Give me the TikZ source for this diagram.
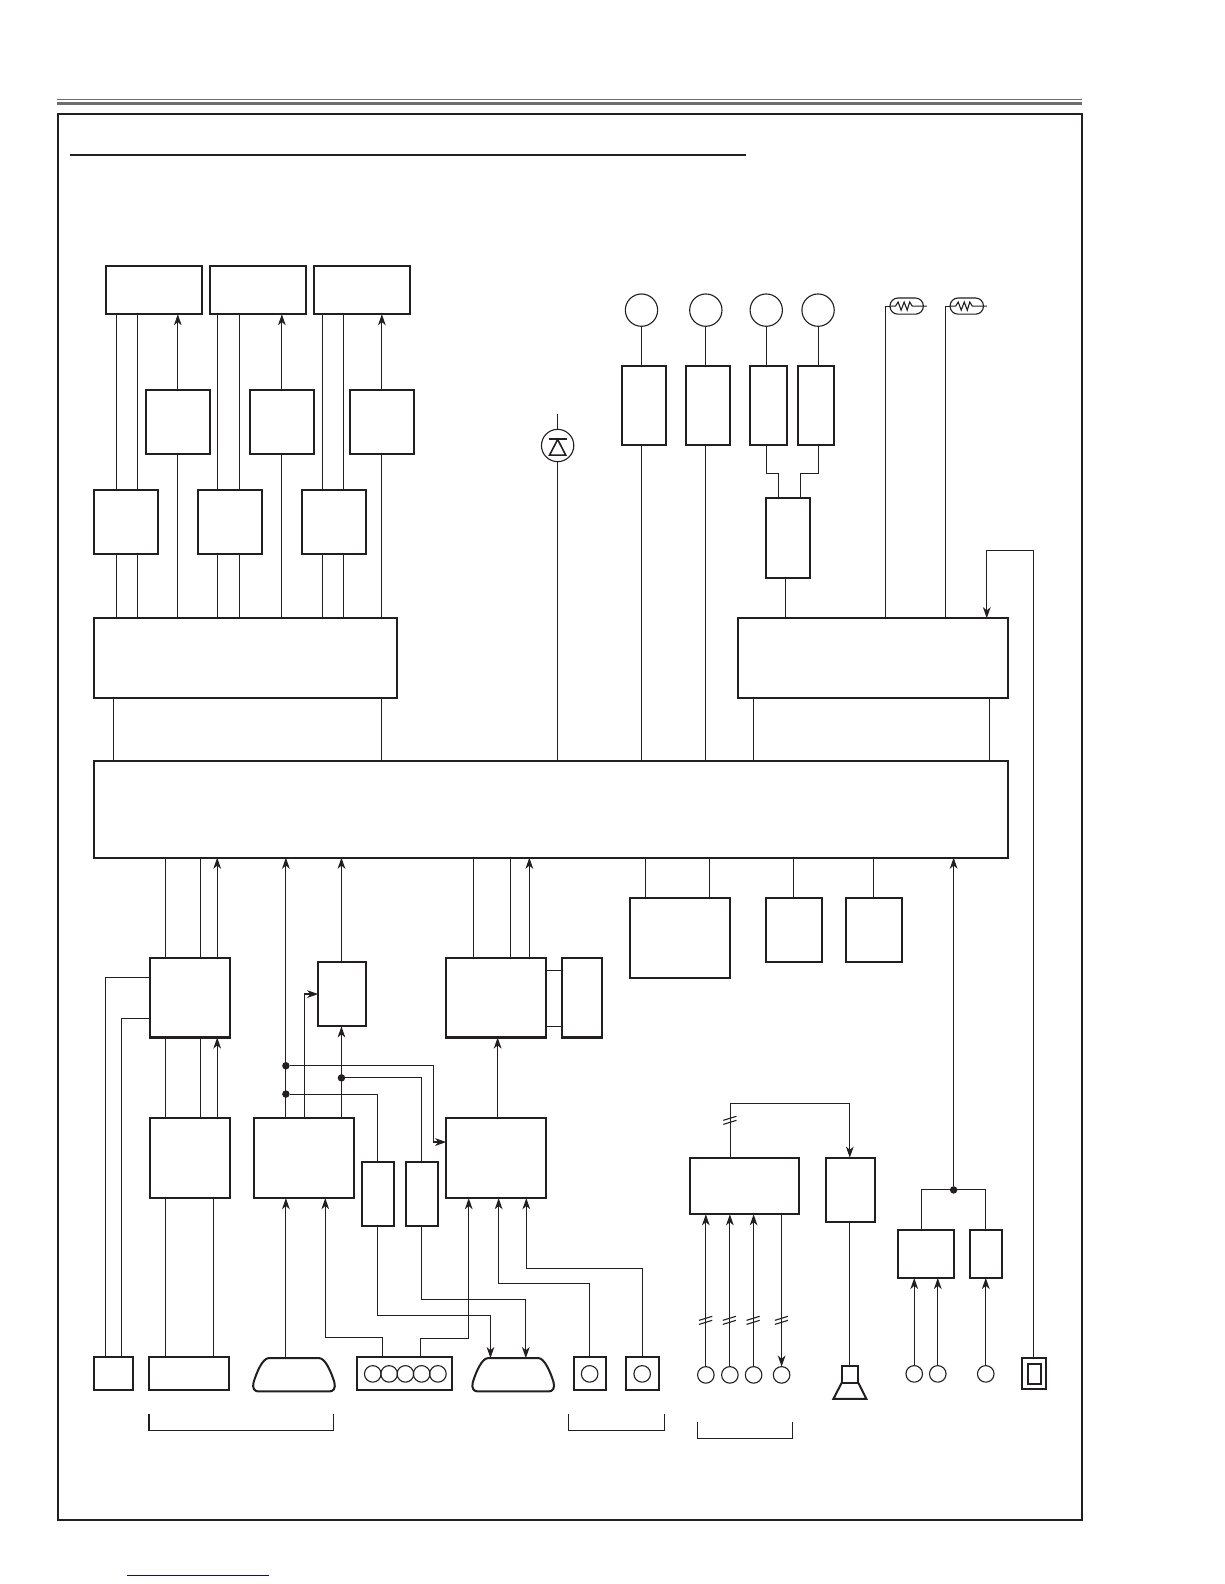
\documentclass[tikz,border=0pt]{standalone}
\usepackage{xcolor}
\usetikzlibrary{arrows.meta}
\definecolor{ink}{HTML}{231F20}
\definecolor{rulegray}{HTML}{6D6E70}
\definecolor{linkblue}{HTML}{0A0A96}
\begin{document}
\begin{tikzpicture}[x=0.5pt, y=-0.5pt, color=ink, line width=0.55pt,
    >={Stealth[length=5.5pt,width=3.8pt,inset=1.6pt]},
    main/.style 2 args = {draw, line width=1pt, inner sep=0pt, outer sep=0pt, anchor=north west, minimum width=#1*0.5pt, minimum height=#2*0.5pt},
    lamp/.style = {draw, circle, inner sep=0pt, outer sep=0pt, minimum size=16pt},
    port/.style = {draw, circle, inner sep=0pt, outer sep=0pt, minimum size=8.2pt},
    dot/.style = {fill, circle, inner sep=0pt, outer sep=0pt, minimum size=3.7pt},
    capsule/.style = {draw, rounded corners=3.9pt, inner sep=0pt, outer sep=0pt, minimum width=16.5pt, minimum height=8pt},
    plug/.pic = {\draw[line width=1pt] (-25,0)--(25,0) .. controls (31,0) and (37,14) .. (40,24) .. controls (41.5,30) and (39,33) .. (35,33)--(-35,33) .. controls (-39,33) and (-41.5,30) .. (-40,24) .. controls (-37,14) and (-31,0) .. (-25,0)--cycle;},
    zig/.pic = {\draw (-17,0)--(-11,0)--(-8.5,-4)--(-5.5,4)--(-2.5,-4)--(0.5,4)--(3,-4)--(5.5,0)--(20,0);},
    slash/.pic = {\draw (-7,1)--(6,-3) (-7,5)--(6,1);}]
    \useasboundingbox (0,0) rectangle (1212,1568);

    % page rules and frame
    \draw[rulegray, line width=0.5pt] (56,98.5)--(1071,98.5);
    \draw[rulegray, line width=1.5pt] (56,102.3)--(1071,102.3);
    \draw[line width=1pt] (57,113) rectangle (1070.6,1505);
    \draw[line width=1pt] (69,153.5)--(738,153.5);
    \draw[linkblue, line width=0.5pt] (126,1559.8)--(266,1559.8);

    % left column
    \node[main={95}{48}] (A1) at (105,263) {};
    \node[main={95}{48}] (A2) at (208,263) {};
    \node[main={95}{48}] (A3) at (311,263) {};
    \node[main={63.6}{63}] (B1) at (144.6,386) {};
    \node[main={64}{63}] (B2) at (247,386) {};
    \node[main={64}{63}] (B3) at (346,386) {};
    \node[main={63.7}{63}] (C1) at (93,485) {};
    \node[main={63.7}{63}] (C2) at (196,485) {};
    \node[main={63.7}{63}] (C3) at (299,485) {};
    \node[main={300}{79}] (D) at (93,612) {};

    % right column
    \node[lamp] (L1) at (635,307) {};
    \node[lamp] (L2) at (698.7,307) {};
    \node[lamp] (L3) at (758.5,307) {};
    \node[lamp] (L4) at (809.8,307) {};
    \node[main={43.7}{78.9}] (E1) at (616,362) {};
    \node[main={44}{78.9}] (E2) at (679,362) {};
    \node[main={36}{78.9}] (E3) at (742.7,362) {};
    \node[main={36}{78.9}] (E4) at (790,362) {};
    \node[main={44}{79}] (F) at (758,493) {};
    \node[main={267}{79}] (G) at (731,612) {};
    \node[capsule] (T1) at (897.5,303) {};
    \node[capsule] (T2) at (957,303) {};
    \node[lamp] (PD) at (552,441) {};
    \coordinate (PDtop) at (552,410);

    % main board
    \node[main={905}{96}] (H) at (93,753) {};

    % lower blocks
    \node[main={80}{79}] (I) at (148,948) {};
    \node[main={47.7}{64}] (K) at (315,952) {};
    \node[main={99}{79}] (M) at (441.7,948) {};
    \node[main={40}{79}] (N) at (556,948) {};
    \node[main={99}{79}] (O) at (624,889) {};
    \node[main={56}{63}] (P) at (758,889) {};
    \node[main={56}{63}] (Q) at (837,889) {};
    \node[main={80}{79.7}] (J) at (148,1106.3) {};
    \node[main={99.7}{79.7}] (R) at (251,1106.3) {};
    \node[main={32}{64}] (W) at (358,1150) {};
    \node[main={32}{64}] (X) at (402,1150) {};
    \node[main={99}{79.7}] (V) at (441.7,1106.3) {};
    \node[main={108}{56}] (S) at (683,1146) {};
    \node[main={47.7}{64}] (U) at (818,1146) {};
    \node[main={55.7}{47.7}] (Y) at (889,1217.3) {};
    \node[main={32}{47.7}] (Z) at (960,1217.3) {};
    \node[dot] (d1) at (283,1055) {};
    \node[dot] (d2) at (283,1083) {};
    \node[dot] (d3) at (338,1067) {};
    \node[dot] (d4) at (944,1177.9) {};

    % bottom connectors
    \node[main={39}{33}] (c1) at (93,1343) {};
    \node[main={79}{33}] (c2) at (147.6,1343) {};
    \coordinate (c3) at (291,1344.4);
    \pic at (c3) {plug};
    \node[main={94}{33}] (c4) at (353.6,1343) {};
    \node[port] at (369,1360) {};
    \node[port] at (385.2,1360) {};
    \node[port] at (401.3,1360) {};
    \node[port] at (417.4,1360) {};
    \node[port] at (433.5,1360) {};
    \coordinate (c5) at (508,1344.4);
    \pic at (c5) {plug};
    \node[main={32}{33}] (c6) at (568,1343) {};
    \node[main={32}{33}] (c7) at (620,1343) {};
    \node[port] (c6i) at (583.7,1360) {};
    \node[port] (c7i) at (635.7,1360) {};
    \node[port] (p1) at (698.7,1361) {};
    \node[port] (p2) at (722.5,1361) {};
    \node[port] (p3) at (746,1361) {};
    \node[port] (p4) at (773.7,1361) {};
    \node[main={16.5}{16.5}] (sp) at (833.2,1352.3) {};
    \node[port] (p5) at (905,1360) {};
    \node[port] (p6) at (928.3,1360) {};
    \node[port] (p7) at (975.8,1360) {};
    \node[main={23.7}{31}] (fu) at (1012,1344) {};
    \draw[line width=1pt] (1018,1350) rectangle (1030,1370);
    \draw[line width=1pt] (sp.south west)--(825,1384.7)--(857.6,1384.7)--(sp.south east);

    % wires above the main board, left
    \draw (A1.south -| 115,0)--(C1.north -| 115,0);
    \draw (A1.south -| 136,0)--(C1.north -| 136,0);
    \draw (C1.south -| 115,0)--(D.north -| 115,0);
    \draw (C1.south -| 136,0)--(D.north -| 136,0);
    \draw (D.north -| 176,0)--(B1.south -| 176,0);
    \draw[->] (B1.north -| 176,0)--(A1.south -| 176,0);
    \draw (A2.south -| 215,0)--(C2.north -| 215,0);
    \draw (A2.south -| 237,0)--(C2.north -| 237,0);
    \draw (C2.south -| 215,0)--(D.north -| 215,0);
    \draw (C2.south -| 237,0)--(D.north -| 237,0);
    \draw (D.north -| B2.south)--(B2.south);
    \draw[->] (B2.north)--(A2.south -| B2.north);
    \draw (A3.south -| 319,0)--(C3.north -| 319,0);
    \draw (A3.south -| 340,0)--(C3.north -| 340,0);
    \draw (C3.south -| 319,0)--(D.north -| 319,0);
    \draw (C3.south -| 340,0)--(D.north -| 340,0);
    \draw (D.north -| B3.south)--(B3.south);
    \draw[->] (B3.north)--(A3.south -| B3.north);
    \draw (D.south -| 112,0)--(H.north -| 112,0);
    \draw (D.south -| 377.6,0)--(H.north -| 377.6,0);

    % wires above the main board, right
    \draw (L1.south)--(E1.north -| L1.south);
    \draw (L2.south)--(E2.north -| L2.south);
    \draw (L3.south)--(E3.north -| L3.south);
    \draw (L4.south)--(E4.north -| L4.south);
    \draw (E1.south -| 635,0)--(H.north -| 635,0);
    \draw (E2.south -| 698.7,0)--(H.north -| 698.7,0);
    \draw (E3.south -| 758.5,0)--(758.5,469)--(770.7,469)--(F.north -| 770.7,0);
    \draw (E4.south -| 809.8,0)--(809.8,469)--(792.7,469)--(F.north -| 792.7,0);
    \draw (F.south -| 777.8,0)--(G.north -| 777.8,0);
    \draw (G.north -| 876.8,0) |- (T1.west);
    \draw (G.north -| 936.3,0) |- (T2.west);
    \pic at (T1) {zig};
    \pic at (T2) {zig};
    \draw[->] (fu.north -| 1023,0)--(1023,545)--(976.8,545)--(G.north -| 976.8,0);
    \draw (G.south -| 746,0)--(H.north -| 746,0);
    \draw (G.south -| 979.8,0)--(H.north -| 979.8,0);
    \draw (PDtop)--(PD.north);
    \draw (PD.south)--(H.north -| PD.south);
    \draw[line width=0.8pt] (543,434.5)--(561,434.5);
    \draw[line width=0.8pt] (552,435)--(544,450.5)--(560,450.5)--cycle;

    % wires below the main board
    \draw (I.north -| 164,0)--(H.south -| 164,0);
    \draw (I.north -| 198.6,0)--(H.south -| 198.6,0);
    \draw[->] (I.north -| 215,0)--(H.south -| 215,0);
    \draw (J.north -| 164,0)--(I.south -| 164,0);
    \draw (J.north -| 198.6,0)--(I.south -| 198.6,0);
    \draw[->] (J.north -| 215,0)--(I.south -| 215,0);
    \draw (J.south -| 164,0)--(c2.north -| 164,0);
    \draw (J.south -| 211,0)--(c2.north -| 211,0);
    \draw (I.west |- 0,968)--(104,968)--(c1.north -| 104,0);
    \draw (I.west |- 0,1008)--(120,1008)--(c1.north -| 120,0);
    \draw[->] (R.north -| 283,0)--(H.south -| 283,0);
    \draw[->] (K.north -| 338,0)--(H.south -| 338,0);
    \draw[->] (R.north -| 301,0)--(301,984)--(K.west);
    \draw[->] (R.north -| 338,0)--(K.south -| 338,0);
    \draw[->] (d1)--(429,1055)--(429,1130.5)--(V.west |- 0,1130.5);
    \draw (d2)--(374,1083)--(W.north -| 374,0);
    \draw (d3)--(417.5,1067)--(X.north -| 417.5,0);
    \draw (M.north -| 469,0)--(H.south -| 469,0);
    \draw (M.north -| 505,0)--(H.south -| 505,0);
    \draw[->] (M.north -| 524,0)--(H.south -| 524,0);
    \draw (M.east |- 0,960.5)--(N.west |- 0,960.5);
    \draw (M.east |- 0,1016)--(N.west |- 0,1016);
    \draw[->] (V.north -| 492.6,0)--(M.south -| 492.6,0);
    \draw (O.north -| 639,0)--(H.south -| 639,0);
    \draw (O.north -| 702,0)--(H.south -| 702,0);
    \draw (P.north -| 785.8,0)--(H.south -| 785.8,0);
    \draw (Q.north)--(H.south -| Q.north);
    \draw[->] (d4)--(H.south -| d4);
    \draw (d4)--(912,1177.9)--(Y.north -| 912,0);
    \draw (d4)--(975.8,1177.9)--(Z.north -| 975.8,0);

    % wires to the bottom connectors
    \draw[->] (c3 -| 283,0)--(R.south -| 283,0);
    \draw[->] (c4.north -| 379,0)--(379,1324)--(322,1324)--(R.south -| 322,0);
    \draw[->] (c4.north -| 416.5,0)--(416.5,1325)--(464,1325)--(V.south -| 464,0);
    \draw[->] (W.south -| 374,0)--(374,1302)--(485.5,1302)--(c5 -| 485.5,0);
    \draw[->] (X.south -| 417,0)--(417,1286.5)--(520.5,1286.5)--(c5 -| 520.5,0);
    \draw[->] (c6.north -| 583.7,0)--(583.7,1270.9)--(493.6,1270.9)--(V.south -| 493.6,0);
    \draw[->] (c7.north -| 635.7,0)--(635.7,1256)--(521,1256)--(V.south -| 521,0);

    % audio
    \draw[->] (S.north -| 723,0)--(723,1092)--(841.2,1092)--(U.north -| 841.2,0);
    \pic at (723,1108) {slash};
    \draw[->] (p1.north)--(S.south -| p1.north);
    \draw[->] (p2.north)--(S.south -| p2.north);
    \draw[->] (p3.north)--(S.south -| p3.north);
    \draw[->] (S.south -| p4.north)--(p4.north);
    \pic at (699,1306) {slash};
    \pic at (722.5,1306) {slash};
    \pic at (746,1306) {slash};
    \pic at (774,1306) {slash};
    \draw (U.south -| 841.2,0)--(sp.north -| 841.2,0);

    % right inputs
    \draw[->] (p5.north)--(Y.south -| p5.north);
    \draw[->] (p6.north)--(Y.south -| p6.north);
    \draw[->] (p7.north)--(Z.south -| p7.north);

    % brackets
    \draw (147.5,1400)--(147.5,1416)--(330,1416)--(330,1400);
    \draw (563,1400)--(563,1416)--(658,1416)--(658,1400);
    \draw (690.5,1408)--(690.5,1424)--(784.5,1424)--(784.5,1408);
\end{tikzpicture}
\end{document}
